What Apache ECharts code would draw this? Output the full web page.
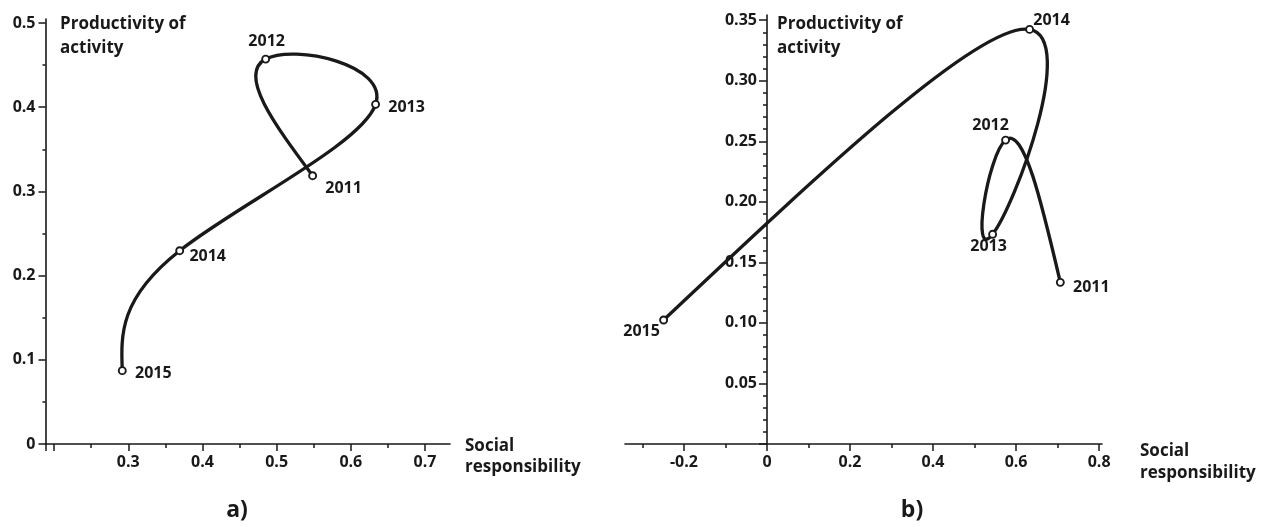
<!DOCTYPE html>
<html>
<head>
<meta charset="utf-8">
<script src="https://cdn.jsdelivr.net/npm/echarts@6/dist/echarts.min.js"></script>
<style>
html,body{margin:0;padding:0;background:#fff;}
#chart{width:1262px;height:527px;}
</style>
</head>
<body>
<div id="chart"></div>
<script>
// ---------- data ----------
const years = ['2011', '2012', '2013', '2014', '2015'];
// panel a)
const socialA = [0.5485, 0.4852, 0.6334, 0.3693, 0.2919];
const prodA   = [0.3187, 0.4572, 0.4034, 0.2296, 0.0871];
// panel b)
const socialB = [0.7066, 0.5748, 0.5435, 0.6326, -0.249];
const prodB   = [0.1335, 0.2510, 0.1732, 0.3424, 0.1024];

// axis ranges and ticks
const xMinA = 0.1884, xMaxA = 0.7337, yMinA = 0, yMaxA = 0.5048;
const xMajorTicksA = [0.1884, 0.2, 0.3, 0.4, 0.5, 0.6, 0.7];
const xMinorTicksA = [0.25, 0.35, 0.45, 0.55, 0.65];
const xLabelsA = [0.3, 0.4, 0.5, 0.6, 0.7];
const yMajorTicksA = [0, 0.1, 0.2, 0.3, 0.4, 0.5];
const yMinorTicksA = [0.05, 0.15, 0.25, 0.35, 0.45];
const yLabelsA = [0, 0.1, 0.2, 0.3, 0.4, 0.5];

const xMinB = -0.342, xMaxB = 0.807, yMinB = 0, yMaxB = 0.3543;
const xMajorTicksB = [-0.2, 0, 0.2, 0.4, 0.6, 0.8];
const xMinorTicksB = [-0.3, -0.1, 0.1, 0.3, 0.5, 0.7];
const xLabelsB = [-0.2, 0, 0.2, 0.4, 0.6, 0.8];
const yMajorTicksB = [0, 0.05, 0.10, 0.15, 0.20, 0.25, 0.30, 0.35];
const yMinorTicksB = [0.01, 0.02, 0.03, 0.04, 0.06, 0.07, 0.08, 0.09, 0.11, 0.12, 0.13, 0.14,
  0.16, 0.17, 0.18, 0.19, 0.21, 0.22, 0.23, 0.24, 0.26, 0.27, 0.28, 0.29, 0.31, 0.32, 0.33, 0.34];
const yLabelsB = [0.05, 0.10, 0.15, 0.20, 0.25, 0.30, 0.35];

// ---------- layout / styles ----------
const gridA = { left: 45.5, top: 19, width: 404.5, height: 425 };
const gridB = { left: 625, top: 15, width: 477, height: 429 };
// label offsets relative to marker centre
const labelOffsetA = [[31, 13], [1, -18], [31, 3], [28, 6], [31, 3]];
const labelOffsetB = [[31, 5], [-15, -15], [-4, 12], [22, -9], [-22, 11]];

const INK = '#1a1818';
const FONT = 'Open Sans';

// y axis of panel b) crosses the x axis at social = 0
const yAxisShiftB = -(0 - xMinB) / (xMaxB - xMinB) * gridB.width;

// natural cubic spline derivatives (uniform parameter) for a list of values
function splineDerivs(v) {
  const n = v.length;
  const M = new Array(n).fill(0);
  if (n > 2) {
    const m = n - 2;
    const c = new Array(m), d = new Array(m);
    for (let i = 0; i < m; i++) {
      const rhs = 6 * (v[i + 2] - 2 * v[i + 1] + v[i]);
      if (i === 0) { c[i] = 1 / 4; d[i] = rhs / 4; }
      else {
        const den = 4 - c[i - 1];
        c[i] = 1 / den;
        d[i] = (rhs - d[i - 1]) / den;
      }
    }
    for (let i = m - 1; i >= 0; i--) {
      M[i + 1] = d[i] - (i < m - 1 ? c[i] * M[i + 2] : 0);
    }
  }
  const D = new Array(n);
  for (let i = 0; i < n - 1; i++) D[i] = (v[i + 1] - v[i]) - (2 * M[i] + M[i + 1]) / 6;
  D[n - 1] = (v[n - 1] - v[n - 2]) + (M[n - 2] + 2 * M[n - 1]) / 6;
  return D;
}

function curveSeries(xs, ys, gi) {
  return {
    type: 'custom',
    xAxisIndex: gi * 2,
    yAxisIndex: gi * 2,
    clip: false,
    silent: true,
    z: 2,
    data: xs.map((x, i) => [x, ys[i]]),
    renderItem: function (params, api) {
      const i = params.dataIndex;
      if (i >= xs.length - 1) return null;
      const pts = xs.map((x, k) => api.coord([x, ys[k]]));
      const dx = splineDerivs(pts.map(p => p[0]));
      const dy = splineDerivs(pts.map(p => p[1]));
      return {
        type: 'bezierCurve',
        shape: {
          x1: pts[i][0], y1: pts[i][1],
          x2: pts[i + 1][0], y2: pts[i + 1][1],
          cpx1: pts[i][0] + dx[i] / 3, cpy1: pts[i][1] + dy[i] / 3,
          cpx2: pts[i + 1][0] - dx[i + 1] / 3, cpy2: pts[i + 1][1] - dy[i + 1] / 3
        },
        style: { stroke: INK, lineWidth: 3.3, fill: null, lineCap: 'round', opacity: 1 }
      };
    }
  };
}

function markerSeries(xs, ys, offsets, gi) {
  return {
    type: 'scatter',
    xAxisIndex: gi * 2,
    yAxisIndex: gi * 2,
    z: 5,
    symbol: 'circle',
    symbolSize: 7,
    silent: true,
    itemStyle: { color: '#ffffff', borderColor: INK, borderWidth: 1.9, opacity: 1 },
    label: {
      show: true,
      position: 'inside',
      formatter: p => years[p.dataIndex],
      fontFamily: FONT, fontWeight: 'bold', fontSize: 16, color: INK, opacity: 1
    },
    emphasis: { disabled: true },
    data: xs.map((x, i) => ({ value: [x, ys[i]], label: { offset: offsets[i] } }))
  };
}

const labelStyle = { fontFamily: FONT, fontWeight: 'bold', fontSize: 16, color: INK };

function xAxesFor(gi, min, max, major, minor, labels, fmt) {
  return [
    {
      type: 'value', gridIndex: gi, position: 'bottom', min: min, max: max,
      axisLine: { show: true, onZero: false, lineStyle: { color: INK, width: 1.6 } },
      axisTick: { show: true, length: 7, customValues: major, lineStyle: { color: INK, width: 1.5 } },
      axisLabel: Object.assign({ show: true, margin: 10, customValues: labels, formatter: fmt }, labelStyle),
      splitLine: { show: false }
    },
    {
      type: 'value', gridIndex: gi, position: 'bottom', min: min, max: max,
      axisLine: { show: false, onZero: false },
      axisTick: { show: true, length: 4, customValues: minor, lineStyle: { color: INK, width: 1.5 } },
      axisLabel: { show: false },
      splitLine: { show: false }
    }
  ];
}

function yAxesFor(gi, min, max, major, minor, labels, fmt, shift, majLen, minLen) {
  return [
    {
      type: 'value', gridIndex: gi, position: 'left', offset: shift, min: min, max: max,
      axisLine: { show: true, onZero: false, lineStyle: { color: INK, width: 1.6 } },
      axisTick: { show: true, length: majLen, customValues: major, lineStyle: { color: INK, width: 1.5 } },
      axisLabel: Object.assign({ show: true, margin: 10, customValues: labels, formatter: fmt }, labelStyle),
      splitLine: { show: false }
    },
    {
      type: 'value', gridIndex: gi, position: 'left', offset: shift, min: min, max: max,
      axisLine: { show: false, onZero: false },
      axisTick: { show: true, length: minLen, customValues: minor, lineStyle: { color: INK, width: 1.5 } },
      axisLabel: { show: false },
      splitLine: { show: false }
    }
  ];
}

const fmtPlain = v => String(+v.toFixed(2));
const fmt2 = v => v.toFixed(2);

const textStyleName = { fontFamily: FONT, fontWeight: 'bold', fontSize: 17, fill: INK };

const option = {
  animation: false,
  backgroundColor: '#fff',
  grid: [
    Object.assign({ containLabel: false }, gridA),
    Object.assign({ containLabel: false }, gridB)
  ],
  xAxis: [].concat(
    xAxesFor(0, xMinA, xMaxA, xMajorTicksA, xMinorTicksA, xLabelsA, fmtPlain),
    xAxesFor(1, xMinB, xMaxB, xMajorTicksB, xMinorTicksB, xLabelsB, fmtPlain)
  ),
  yAxis: [].concat(
    yAxesFor(0, yMinA, yMaxA, yMajorTicksA, yMinorTicksA, yLabelsA, fmtPlain, 0, 7, 3),
    yAxesFor(1, yMinB, yMaxB, yMajorTicksB, yMinorTicksB, yLabelsB, fmt2, yAxisShiftB, 8, 4)
  ),
  series: [
    curveSeries(socialA, prodA, 0),
    markerSeries(socialA, prodA, labelOffsetA, 0),
    curveSeries(socialB, prodB, 1),
    markerSeries(socialB, prodB, labelOffsetB, 1)
  ],
  graphic: [
    { type: 'text', left: 60, top: 12.5, silent: true,
      style: Object.assign({ text: 'Productivity of\nactivity', lineHeight: 24 }, textStyleName) },
    { type: 'text', left: 777, top: 12.5, silent: true,
      style: Object.assign({ text: 'Productivity of\nactivity', lineHeight: 24 }, textStyleName) },
    { type: 'text', left: 465, top: 435.5, silent: true,
      style: Object.assign({ text: 'Social\nresponsibility', lineHeight: 21 }, textStyleName) },
    { type: 'text', left: 1140, top: 440, silent: true,
      style: Object.assign({ text: 'Social\nresponsibility', lineHeight: 22 }, textStyleName) },
    { type: 'text', x: 237, y: 510, silent: true,
      style: { text: 'a)', fontFamily: FONT, fontWeight: 'bold', fontSize: 23, fill: INK, align: 'center', verticalAlign: 'middle' } },
    { type: 'text', x: 912, y: 510, silent: true,
      style: { text: 'b)', fontFamily: FONT, fontWeight: 'bold', fontSize: 23, fill: INK, align: 'center', verticalAlign: 'middle' } }
  ]
};

const chart = echarts.init(document.getElementById('chart'), null, { renderer: 'canvas' });
chart.setOption(option);
</script>
</body>
</html>
